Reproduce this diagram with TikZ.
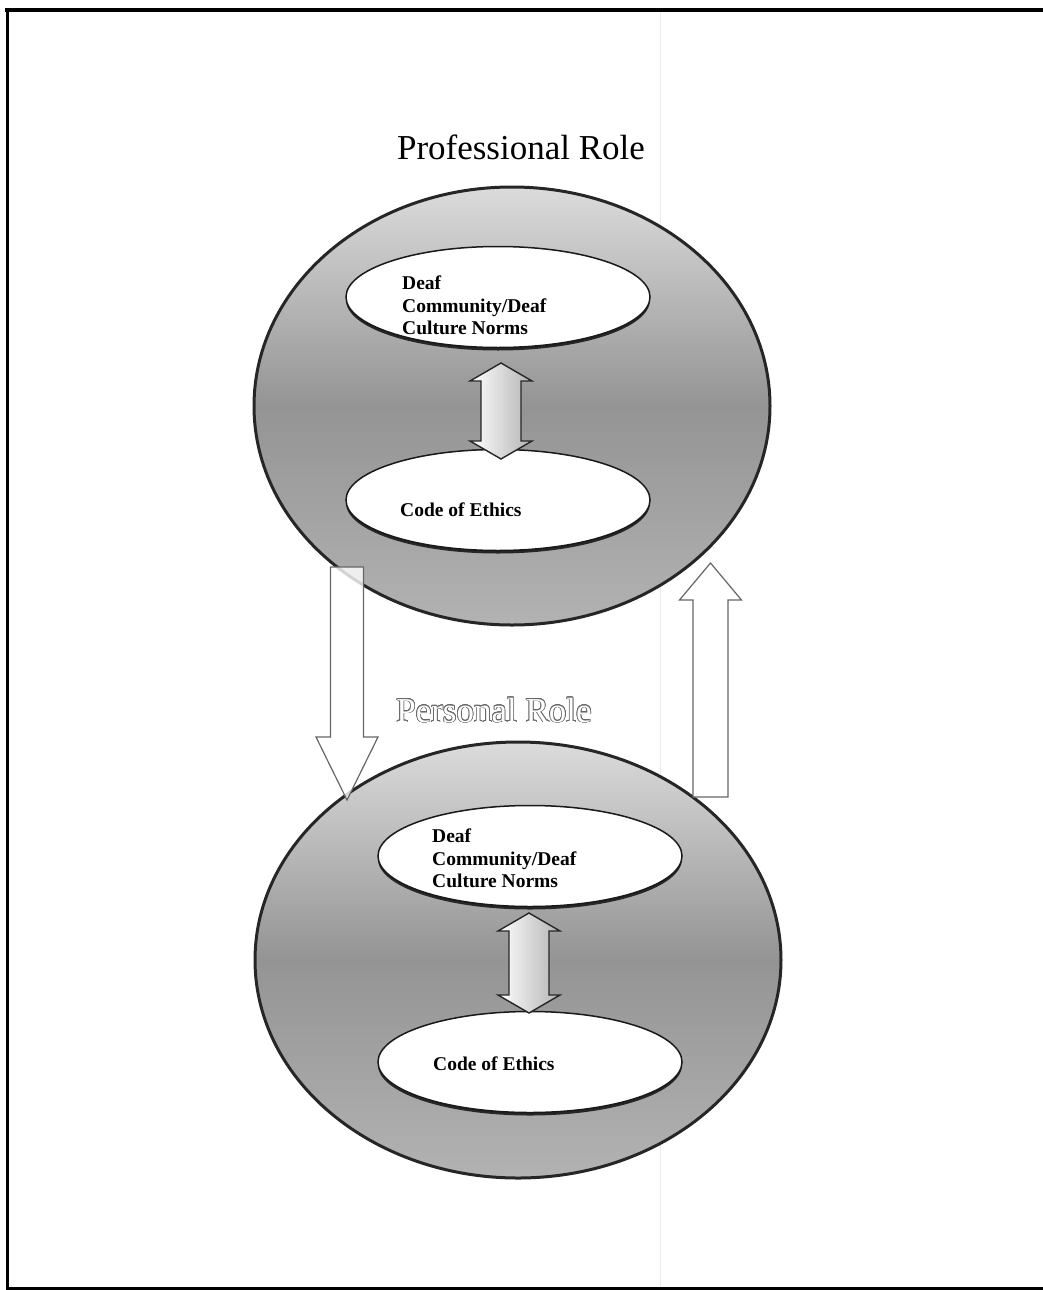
\documentclass[tikz,border=0pt]{standalone}
\usepackage{fontspec}
\setmainfont{Liberation Serif}
\usepackage{contour}
\usetikzlibrary{positioning,calc,shapes.geometric,shadows}
\contourlength{0.7pt}

\begin{document}
\begin{tikzpicture}[
  x=1pt, y=-1pt,
  roleouter/.style={ellipse, draw=black!85, line width=3pt, inner sep=0pt,
              top color=black!14, bottom color=black!30, middle color=black!42},
  roleinner/.style={ellipse, draw=black!90, line width=1.5pt, fill=white, inner sep=0pt,
              minimum width=304pt, minimum height=101pt,
              drop shadow={shadow xshift=0pt, shadow yshift=-3pt, fill=black!85, opacity=1}},
  normtext/.style={font=\bfseries\fontsize{19.5}{22.5}\selectfont, align=left, inner sep=0pt},
  roletitle/.style={font=\fontsize{35}{40}\selectfont, inner sep=0pt},
  blockarrow/.style={draw=black!60, line width=1.2pt, fill=white, fill opacity=0.8},
  dblarrow/.style={draw=black!85, line width=1.4pt, left color=white, right color=black!30},
]
\useasboundingbox (0,0) rectangle (1043,1290);

% ---------- Page frame ----------
\draw[black!8, line width=0.6pt] (660,10) -- (660,1288);
\draw[line width=4pt] (5,10) -- (1043,10);
\draw[line width=3pt] (7,10) -- (7,1288) -- (1043,1288);

% ---------- Professional role ----------
\node[roleouter, minimum width=516pt, minimum height=438pt] (prof) at (512,406) {};
\node[roleinner] (profnorms) at (498,297) {};
\node[roleinner] (profcode)  at (498,500) {};
\node[normtext, anchor=north west] (profnormstext) at (402,276) {Deaf\\Community/Deaf\\Culture Norms};
\node[normtext, anchor=base west]  (profcodetext)  at (400,516) {Code of Ethics};
\node[roletitle, above=25pt of prof, xshift=9pt] (proftitle) {Professional Role};

% ---------- Personal role ----------
\node[roleouter, minimum width=526pt, minimum height=436pt] (pers) at (518,960) {};
\node[roleinner] (persnorms) at (530,856) {};
\node[roleinner] (perscode)  at (530,1062) {};
\node[normtext, anchor=north west] (persnormstext) at (432,829) {Deaf\\Community/Deaf\\Culture Norms};
\node[normtext, anchor=base west]  (perscodetext)  at (433,1070) {Code of Ethics};
\node[roletitle, above=17pt of pers, xshift=-24pt] (perstitle)
      {\contour{black!60}{\textcolor{white}{Personal Role}}};

% ---------- Arrows ----------
\coordinate (profdbl) at (501,363);
\draw[dblarrow] (profdbl) -- ++(31,18) -- ++(-11,0) -- ++(0,60) -- ++(11,0) -- ++(-31,18)
      -- ++(-31,-18) -- ++(11,0) -- ++(0,-60) -- ++(-11,0) -- cycle;
\coordinate (persdbl) at (529,913);
\draw[dblarrow] (persdbl) -- ++(31,18) -- ++(-11,0) -- ++(0,64) -- ++(11,0) -- ++(-31,18)
      -- ++(-31,-18) -- ++(11,0) -- ++(0,-64) -- ++(-11,0) -- cycle;

\coordinate (downtail) at (347,567);
\draw[blockarrow] (downtail) ++(-16.5,0) -- ++(33,0) -- ++(0,170) -- ++(14.5,0)
      -- ++(-31,63) -- ++(-31,-63) -- ++(14.5,0) -- cycle;
\coordinate (uptail) at (710.5,797);
\draw[blockarrow] (uptail) ++(-17.5,0) -- ++(35,0) -- ++(0,-197) -- ++(13.5,0)
      -- ++(-31,-37) -- ++(-31,37) -- ++(13.5,0) -- cycle;

\end{tikzpicture}
\end{document}
